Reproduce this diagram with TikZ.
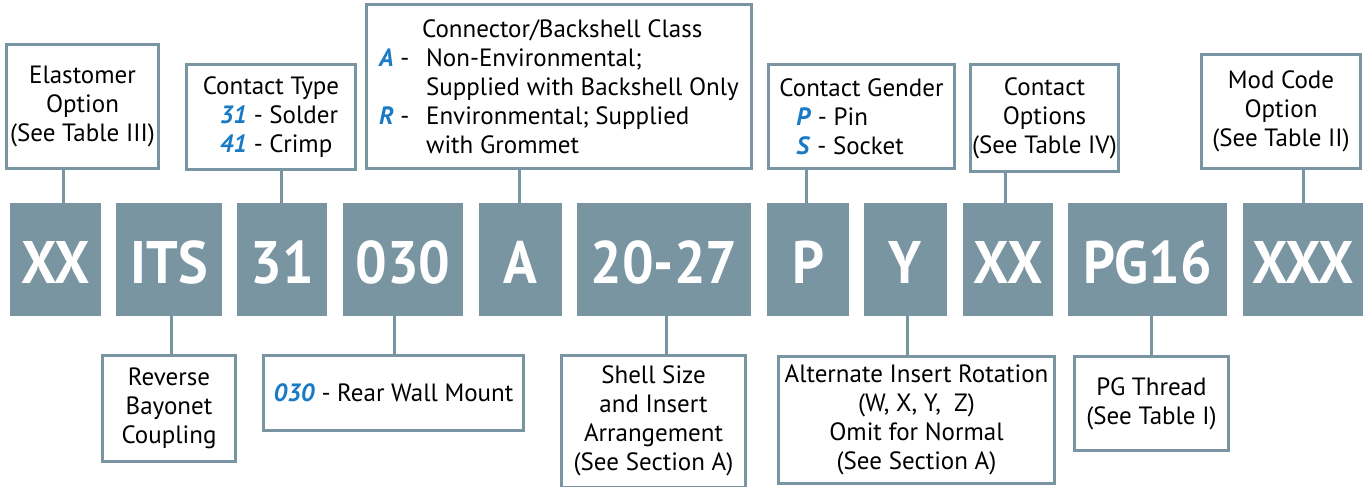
\documentclass[tikz,border=0pt]{standalone}
\usepackage{fontspec}
\setmainfont{PT Sans}
\newfontfamily\codefont[FakeStretch=0.93]{PT Sans}
\usetikzlibrary{calc}
\definecolor{slate}{HTML}{7A95A2}
\definecolor{codeblue}{HTML}{1A7BC4}
\newcommand{\code}[1]{\textcolor{codeblue}{\textbf{\textit{#1}}}}
\begin{document}
\begin{tikzpicture}[x=1pt,y=-1pt,
  gbox/.style={fill=slate, text=white, font=\codefont\fontsize{60}{60}\selectfont\bfseries,
    inner sep=0pt, minimum height=113pt, text height=47pt, text depth=0pt},
  obox/.style={draw=slate, line width=3pt, fill=white, inner sep=0pt,
    font=\fontsize{25}{29}\selectfont, align=center},
  link/.style={draw=slate, line width=3pt}]
\useasboundingbox (0,0) rectangle (1365,487);

% code boxes
\node[gbox, minimum width=91pt]  (c1)  at (55.5,259.5)  {XX};
\node[gbox, minimum width=106pt] (c2)  at (169,259.5)   {ITS};
\node[gbox, minimum width=90pt]  (c3)  at (282,259.5)   {31};
\node[gbox, minimum width=120pt] (c4)  at (403,259.5)   {030};
\node[gbox, minimum width=83pt]  (c5)  at (520.5,259.5) {A};
\node[gbox, minimum width=174pt] (c6)  at (664,259.5)   {20-27};
\node[gbox, minimum width=82pt]  (c7)  at (808,259.5)   {P};
\node[gbox, minimum width=83pt]  (c8)  at (905.5,259.5) {Y};
\node[gbox, minimum width=90pt]  (c9)  at (1008,259.5)  {XX};
\node[gbox, minimum width=159pt] (c10) at (1147.5,259.5){PG16};
\node[gbox, minimum width=120pt] (c11) at (1303,259.5)  {XXX};

% top boxes
\node[obox, minimum width=152pt, minimum height=124pt] (elast) at (82.5,106.5)
  {Elastomer\\Option\\(See Table III)};
\node[obox, align=left, minimum width=169pt, minimum height=105pt] (ctype) at (271,117)
  {Contact Type\\\hspace*{17pt}\code{31} - Solder\\\hspace*{17pt}\code{41} - Crimp};
\node[obox, align=left, minimum width=385pt, minimum height=164pt] (cclass) at (559,86.5)
  {\hspace*{43pt}Connector/Backshell Class\\
   \makebox[47pt][l]{\code{A} -}Non-Environmental;\\
   \hspace*{47pt}Supplied with Backshell Only\\
   \makebox[47pt][l]{\code{R} -}Environmental; Supplied\\
   \hspace*{47pt}with Grommet};
\node[obox, align=left, minimum width=186pt, minimum height=104pt] (cgender) at (861.5,116.5)
  {Contact Gender\\\hspace*{17pt}\code{P} - Pin\\\hspace*{17pt}\code{S} - Socket};
\node[obox, minimum width=148pt, minimum height=107pt] (copt) at (1044.5,118)
  {Contact\\Options\\(See Table IV)};
\node[obox, minimum width=159pt, minimum height=114pt] (mod) at (1281,111.5)
  {Mod Code\\Option\\(See Table II)};

% bottom boxes
\node[obox, minimum width=133pt, minimum height=106pt] (rev) at (169,408.5)
  {Reverse\\Bayonet\\Coupling};
\node[obox, minimum width=260pt, minimum height=75pt] (rear) at (393.5,393)
  {\code{030} - Rear Wall Mount};
\node[obox, minimum width=184pt, minimum height=132pt] (shell) at (653.5,421)
  {Shell Size\\and Insert\\Arrangement\\(See Section A)};
\node[obox, minimum width=276pt, minimum height=127pt] (alt) at (916.5,420)
  {Alternate Insert Rotation\\(W, X, Y,\ \ Z)\\Omit for Normal\\(See Section A)};
\node[obox, minimum width=154pt, minimum height=94pt] (pg) at (1151.5,403.5)
  {PG Thread\\(See Table I)};

% connectors
\draw[link] (63,0 |- elast.south)   -- (63,0 |- c1.north);
\draw[link] (281,0 |- ctype.south)  -- (281,0 |- c3.north);
\draw[link] (519,0 |- cclass.south) -- (519,0 |- c5.north);
\draw[link] (806,0 |- cgender.south)-- (806,0 |- c7.north);
\draw[link] (1005,0 |- copt.south)  -- (1005,0 |- c9.north);
\draw[link] (1303,0 |- mod.south)   -- (1303,0 |- c11.north);
\draw[link] (171,0 |- c2.south)  -- (171,0 |- rev.north);
\draw[link] (394,0 |- c4.south)  -- (394,0 |- rear.north);
\draw[link] (666,0 |- c6.south)  -- (666,0 |- shell.north);
\draw[link] (907,0 |- c8.south)  -- (907,0 |- alt.north);
\draw[link] (1151,0 |- c10.south)-- (1151,0 |- pg.north);
\end{tikzpicture}
\end{document}
